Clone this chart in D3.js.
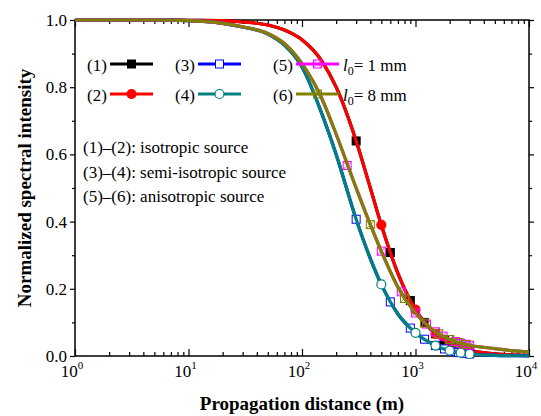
<!DOCTYPE html>
<html>
<head>
<meta charset="utf-8">
<script src="https://cdn.jsdelivr.net/npm/d3@7"></script>
<style>
  body { margin: 0; background: #fff; }
  svg { font-family: "Liberation Serif", "Times New Roman", serif; }
</style>
</head>
<body>
<svg id="chart" width="541" height="416"></svg>
<script>
// propagation distance samples (m)
const distance = [1, 2, 5, 10, 20, 30, 50, 70, 100, 150, 200, 300, 400, 500, 700, 1000, 1500, 2000, 3000, 5000, 7000, 10000];

// normalized intensity
const isoIntensity  = [1, 1, 1, 0.999, 0.998, 0.994, 0.985, 0.970, 0.941, 0.877, 0.80, 0.64, 0.50, 0.39, 0.246, 0.138, 0.066, 0.038, 0.017, 0.0064, 0.0033, 0.0016];
const semiIntensity = [1, 1, 1, 0.998, 0.99, 0.979, 0.958, 0.925, 0.86, 0.72, 0.60, 0.407, 0.29, 0.213, 0.125, 0.069, 0.031, 0.016, 0.006, 0.002, 0.001, 0.0005];
const anisoIntensity = [1, 1, 1, 0.998, 0.99, 0.98, 0.96, 0.93, 0.87, 0.765, 0.66, 0.50, 0.391, 0.312, 0.205, 0.128, 0.072, 0.049, 0.032, 0.022, 0.016, 0.012];

// marker positions for each series
const marker1Z = [300, 600, 900, 1200, 1500, 1800, 2100, 2400, 2700, 3000];
const marker1V = [0.64, 0.308, 0.165, 0.10, 0.066, 0.047, 0.035, 0.027, 0.021, 0.017];
const marker2Z = [500, 1000, 1500, 2000, 2500, 3000];
const marker2V = [0.39, 0.138, 0.066, 0.038, 0.025, 0.017];
const marker3Z = [300, 600, 900, 1200, 1500, 1800, 2100, 2400, 2700, 3000];
const marker3V = [0.407, 0.161, 0.083, 0.05, 0.031, 0.021, 0.014, 0.010, 0.008, 0.006];
const marker4Z = [500, 1000, 1500, 2000, 2500, 3000];
const marker4V = [0.213, 0.069, 0.031, 0.016, 0.010, 0.006];
const marker5Z = [250, 500, 750, 1000, 1250, 1500, 1750, 2000, 2250, 2500, 2750, 3000];
const marker5V = [0.567, 0.312, 0.191, 0.128, 0.095, 0.072, 0.059, 0.049, 0.043, 0.038, 0.035, 0.032];
const marker6Z = [400, 800, 1200, 1600, 2000, 2400, 2800];
const marker6V = [0.391, 0.171, 0.098, 0.066, 0.049, 0.040, 0.034];

// tick labels
const xDecades = [0, 1, 2, 3, 4];
const yTicks = [0, 0.2, 0.4, 0.6, 0.8, 1.0];
const yMinor = [0.1, 0.3, 0.5, 0.7, 0.9];
const notes = ["(1)\u2013(2): isotropic source", "(3)\u2013(4): semi-isotropic source", "(5)\u2013(6): anisotropic source"];

const series = [
  { label: "(1)", color: "#000000", values: isoIntensity,   mz: marker1Z, mv: marker1V, shape: "square", fill: "#000000" },
  { label: "(2)", color: "#ff0000", values: isoIntensity,   mz: marker2Z, mv: marker2V, shape: "circle", fill: "#ff0000" },
  { label: "(3)", color: "#0000ff", values: semiIntensity,  mz: marker3Z, mv: marker3V, shape: "square", fill: "#ffffff" },
  { label: "(4)", color: "#008080", values: semiIntensity,  mz: marker4Z, mv: marker4V, shape: "circle", fill: "#ffffff" },
  { label: "(5)", color: "#ff00ff", values: anisoIntensity, mz: marker5Z, mv: marker5V, shape: "xsquare", fill: "none" },
  { label: "(6)", color: "#808000", values: anisoIntensity, mz: marker6Z, mv: marker6V, shape: "xsquare", fill: "none" }
];

const svg = d3.select("#chart");
const plotL = 75, plotR = 529, plotT = 20, plotB = 356;

const x = d3.scaleLog().domain([1, 10000]).range([plotL, plotR]);
const y = d3.scaleLinear().domain([0, 1]).range([plotB, plotT]);

//frame
svg.append("rect")
  .attr("x", plotL).attr("y", plotT)
  .attr("width", plotR - plotL).attr("height", plotB - plotT)
  .attr("fill", "none").attr("stroke", "#000").attr("stroke-width", 1.5);

//minor x ticks
const minorX = [];
for (let d = 0; d < 4; d++) for (let k = 2; k <= 9; k++) minorX.push(k * Math.pow(10, d));

const xBottom = svg.append("g").attr("transform", "translate(0," + plotB + ")");
xBottom.call(d3.axisBottom(x).tickValues(xDecades.map(d => Math.pow(10, d))).tickSize(-7).tickFormat(""));
xBottom.append("g").call(d3.axisBottom(x).tickValues(minorX).tickSize(-4).tickFormat(""));
const xTop = svg.append("g").attr("transform", "translate(0," + plotT + ")");
xTop.call(d3.axisTop(x).tickValues(xDecades.map(d => Math.pow(10, d))).tickSize(-7).tickFormat(""));
xTop.append("g").call(d3.axisTop(x).tickValues(minorX).tickSize(-4).tickFormat(""));

const yLeft = svg.append("g").attr("transform", "translate(" + plotL + ",0)");
yLeft.call(d3.axisLeft(y).tickValues(yTicks).tickSize(5).tickPadding(3).tickFormat(d3.format(".1f")));
yLeft.append("g").call(d3.axisLeft(y).tickValues(yMinor).tickSize(3).tickFormat(""));
const yRight = svg.append("g").attr("transform", "translate(" + plotR + ",0)");
yRight.call(d3.axisRight(y).tickValues(yTicks).tickSize(5).tickFormat(""));
yRight.append("g").call(d3.axisRight(y).tickValues(yMinor).tickSize(3).tickFormat(""));

svg.selectAll(".domain").remove();
svg.selectAll(".tick line").attr("stroke", "#000").attr("stroke-width", 1.2);
yLeft.selectAll(".tick text")
  .attr("font-size", "17px").attr("font-family", "Liberation Serif").attr("fill", "#000");

//decade labels with superscripts
const xl = svg.append("g");
xDecades.forEach(d => {
  const t = xl.append("text")
    .attr("x", x(Math.pow(10, d)) - 3).attr("y", 377)
    .attr("text-anchor", "middle").attr("font-size", "17px");
  t.append("tspan").text("10");
  t.append("tspan").attr("dy", -8).attr("font-size", "11px").text(d);
});

//axis titles
svg.append("text")
  .attr("x", (plotL + plotR) / 2).attr("y", 410)
  .attr("text-anchor", "middle").attr("font-size", "19px").attr("font-weight", "bold")
  .text("Propagation distance (m)");
svg.append("text")
  .attr("transform", "translate(31," + (plotT + plotB) / 2 + ") rotate(-90)")
  .attr("text-anchor", "middle").attr("font-size", "19px").attr("font-weight", "bold")
  .text("Normalized spectral intensity");

//curves
const line = d3.line()
  .x((d, i) => x(distance[i]))
  .y(d => y(d))
  .curve(d3.curveMonotoneX);

function drawMarker(g, shape, color, fill, cx, cy) {
  if (shape === "square") {
    g.append("rect").attr("x", cx - 4).attr("y", cy - 4).attr("width", 8).attr("height", 8)
      .attr("fill", fill).attr("stroke", color).attr("stroke-width", 1);
  } else if (shape === "circle") {
    g.append("circle").attr("cx", cx).attr("cy", cy).attr("r", 4.5)
      .attr("fill", fill).attr("stroke", color).attr("stroke-width", 1.2);
  } else {
    g.append("rect").attr("x", cx - 4).attr("y", cy - 4).attr("width", 8).attr("height", 8)
      .attr("fill", "none").attr("stroke", color).attr("stroke-width", 1);
    g.append("path").attr("d", `M${cx - 4},${cy - 4}L${cx + 4},${cy + 4}M${cx + 4},${cy - 4}L${cx - 4},${cy + 4}`)
      .attr("stroke", color).attr("stroke-width", 0.8);
  }
}

series.forEach(s => {
  const g = svg.append("g");
  g.append("path").datum(s.values)
    .attr("d", line)
    .attr("fill", "none").attr("stroke", s.color).attr("stroke-width", 3.2);
  s.mz.forEach((z, i) => drawMarker(g, s.shape, s.color, s.fill, x(z), y(s.mv[i])));
});

//legend
const legendCols = [87, 175, 273];
const legendRows = [71, 101];
series.forEach((s, i) => {
  const col = Math.floor(i / 2), row = i % 2;
  const tx = legendCols[col], ty = legendRows[row];
  const g = svg.append("g");
  g.append("text").attr("x", tx).attr("y", ty).attr("font-size", "17px").text(s.label);
  const x1 = tx + 23, x2 = tx + 66;
  g.append("line").attr("x1", x1).attr("x2", x2).attr("y1", ty - 7).attr("y2", ty - 7)
    .attr("stroke", s.color).attr("stroke-width", 3.2);
  drawMarker(g, s.shape, s.color, s.fill, (x1 + x2) / 2, ty - 7);
});
["1", "8"].forEach((v, i) => {
  const t = svg.append("text").attr("x", 343).attr("y", legendRows[i]).attr("font-size", "17px");
  t.append("tspan").attr("font-style", "italic").text("l");
  t.append("tspan").attr("dy", 4).attr("font-size", "12px").text("0");
  t.append("tspan").attr("dy", -4).text("= " + v + " mm");
});

//notes
notes.forEach((n, i) => {
  svg.append("text").attr("x", 83).attr("y", [153, 178, 202][i])
    .attr("font-size", "17px").text(n);
});
</script>
</body>
</html>
